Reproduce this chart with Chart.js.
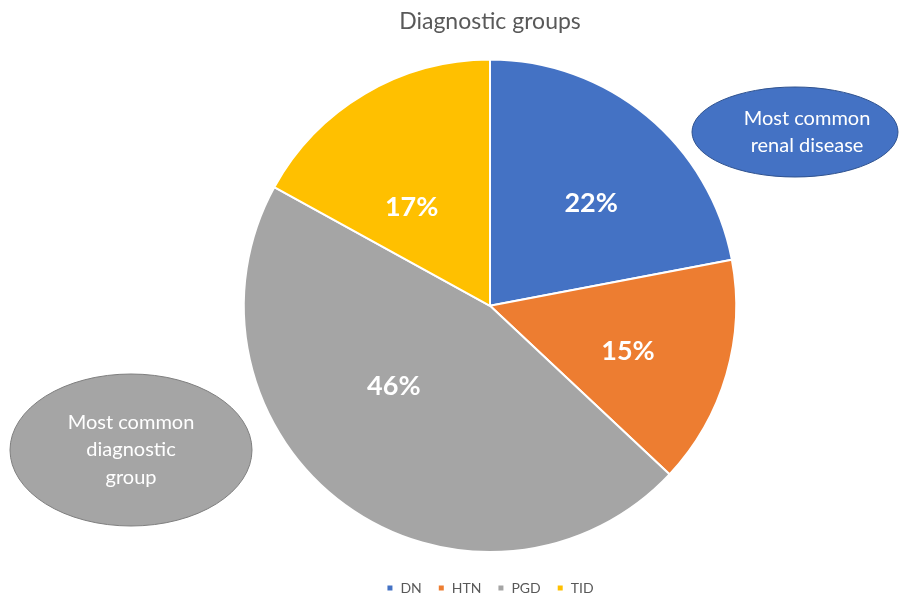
<!DOCTYPE html>
<html>
<head>
<meta charset="utf-8">
<script src="https://cdn.jsdelivr.net/npm/chart.js@4/dist/chart.umd.min.js"></script>
<style>
  html, body { margin: 0; padding: 0; background: #fff; }
  #wrap { width: 923px; height: 595px; }
</style>
</head>
<body>
<div id="wrap"><canvas id="pie"></canvas></div>
<script>
// diagnostic groups, % of patients
const groups = ['DN', 'HTN', 'PGD', 'TID'];
const shares = [22, 15, 46, 17];
const colors = ['#4472C4', '#ED7D31', '#A5A5A5', '#FFC000'];

// where each % label sits: angle nudge (deg) off the slice bisector, distance as share of radius
const labelPlace = [
  { turn: 5, dist: 0.585 },
  { turn: 2, dist: 0.59 },
  { turn: 14, dist: 0.51 },
  { turn: -8, dist: 0.51 },
];

// call-out bubbles next to the pie
const callouts = [
  { lines: ['Most common', 'renal disease'], cx: 795, cy: 132, rx: 103, ry: 45, dx: 12, fill: '#4472C4', stroke: '#2F528F' },
  { lines: ['Most common', 'diagnostic', 'group'], cx: 131, cy: 450, rx: 121, ry: 76, dx: 0, fill: '#A5A5A5', stroke: '#7F7F7F' },
];

const FONT = 'Lato, "Open Sans", sans-serif';

// percent labels inside each slice
const sliceLabels = {
  id: 'sliceLabels',
  afterDatasetsDraw(chart) {
    const { ctx } = chart;
    const meta = chart.getDatasetMeta(0);
    ctx.save();
    ctx.font = `bold 27px ${FONT}`;
    ctx.fillStyle = '#fff';
    ctx.textAlign = 'center';
    ctx.textBaseline = 'middle';
    meta.data.forEach((arc, i) => {
      const { x, y, startAngle, endAngle, outerRadius } = arc.getProps(['x', 'y', 'startAngle', 'endAngle', 'outerRadius'], true);
      const p = labelPlace[i];
      const a = (startAngle + endAngle) / 2 + p.turn * Math.PI / 180;
      const r = outerRadius * p.dist;
      ctx.fillText(shares[i] + '%', x + Math.cos(a) * r, y + Math.sin(a) * r);
    });
    ctx.restore();
  }
};

// ellipse call-outs
const bubbles = {
  id: 'bubbles',
  afterDraw(chart) {
    const { ctx } = chart;
    ctx.save();
    callouts.forEach(c => {
      ctx.beginPath();
      ctx.ellipse(c.cx, c.cy, c.rx, c.ry, 0, 0, Math.PI * 2);
      ctx.fillStyle = c.fill;
      ctx.fill();
      ctx.lineWidth = 1;
      ctx.strokeStyle = c.stroke;
      ctx.stroke();
      ctx.fillStyle = '#fff';
      ctx.font = `20px ${FONT}`;
      ctx.textAlign = 'center';
      ctx.textBaseline = 'middle';
      const lh = 27.5;
      const top = c.cy - (c.lines.length - 1) * lh / 2;
      c.lines.forEach((t, j) => ctx.fillText(t, c.cx + c.dx, top + j * lh));
    });
    ctx.restore();
  }
};

// drop the legend row a little closer to the bottom edge
const legendNudge = {
  id: 'legendNudge',
  afterLayout(chart) {
    const lg = chart.legend;
    if (lg) { lg.top += 12; lg.bottom += 12; }
  }
};

new Chart(document.getElementById('pie'), {
  type: 'pie',
  data: {
    labels: groups,
    datasets: [{
      data: shares,
      backgroundColor: colors,
      borderColor: '#fff',
      borderWidth: 2,
    }]
  },
  options: {
    responsive: true,
    maintainAspectRatio: false,
    animation: false,
    layout: { padding: { left: 57, right: 0, top: 0, bottom: 2 } },
    plugins: {
      title: {
        display: true,
        text: 'Diagnostic groups',
        color: '#595959',
        font: { family: FONT, size: 23, weight: 'normal' },
        padding: { top: 8, bottom: 23 }
      },
      legend: {
        position: 'bottom',
        labels: {
          color: '#595959',
          font: { family: FONT, size: 14 },
          boxWidth: 7,
          boxHeight: 7,
          padding: 16
        }
      },
      tooltip: { enabled: false }
    }
  },
  plugins: [sliceLabels, bubbles, legendNudge]
});
</script>
</body>
</html>
